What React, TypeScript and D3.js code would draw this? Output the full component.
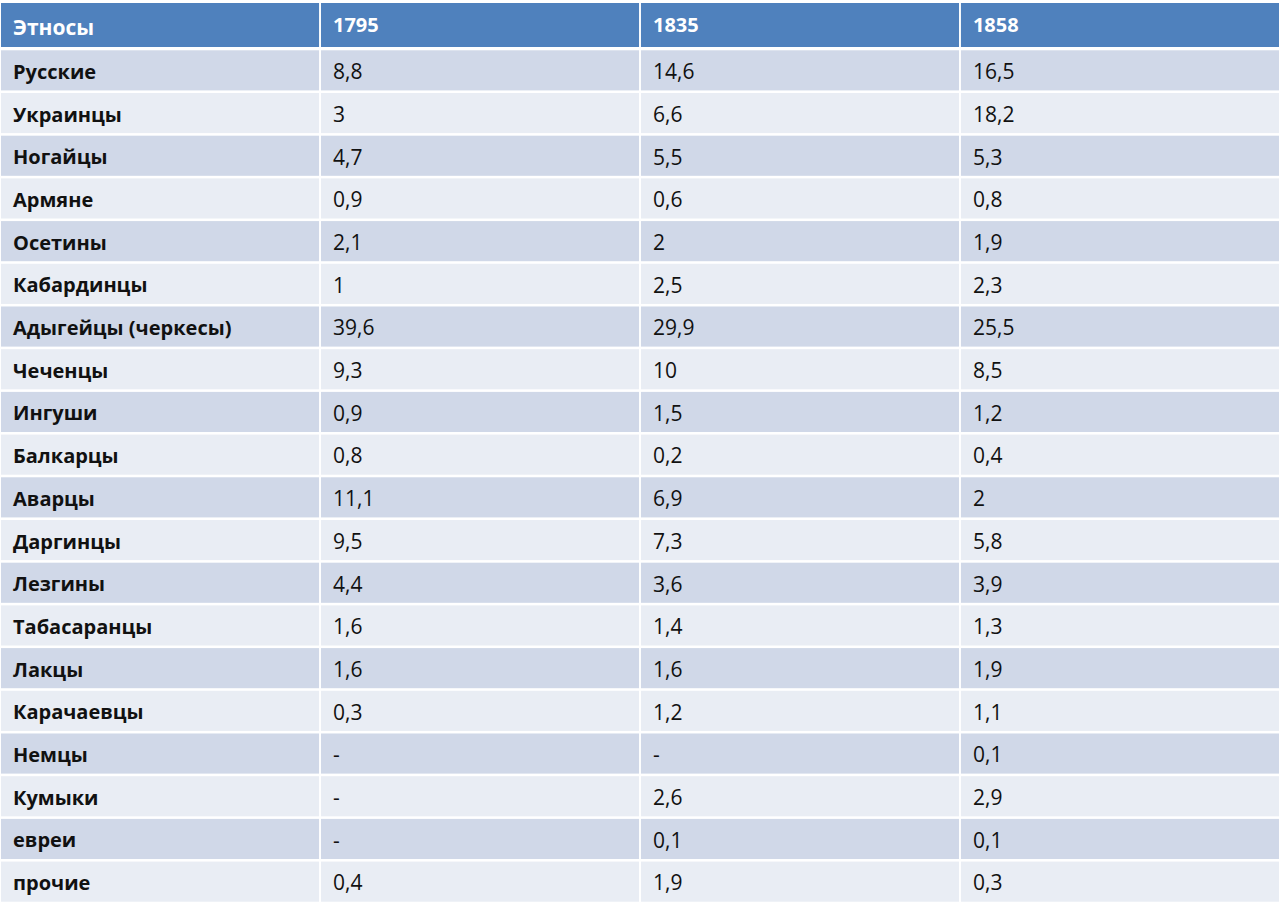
import { useEffect, useRef } from "react";
import * as d3 from "d3";

const headers = ["Этносы", "1795", "1835", "1858"];
const ethnos = [
  "Русские", "Украинцы", "Ногайцы", "Армяне", "Осетины", "Кабардинцы",
  "Адыгейцы (черкесы)", "Чеченцы", "Ингуши", "Балкарцы", "Аварцы",
  "Даргинцы", "Лезгины", "Табасаранцы", "Лакцы", "Карачаевцы",
  "Немцы", "Кумыки", "евреи", "прочие",
];
const y1795 = ["8,8", "3", "4,7", "0,9", "2,1", "1", "39,6", "9,3", "0,9", "0,8", "11,1", "9,5", "4,4", "1,6", "1,6", "0,3", "-", "-", "-", "0,4"];
const y1835 = ["14,6", "6,6", "5,5", "0,6", "2", "2,5", "29,9", "10", "1,5", "0,2", "6,9", "7,3", "3,6", "1,4", "1,6", "1,2", "-", "2,6", "0,1", "1,9"];
const y1858 = ["16,5", "18,2", "5,3", "0,8", "1,9", "2,3", "25,5", "8,5", "1,2", "0,4", "2", "5,8", "3,9", "1,3", "1,9", "1,1", "0,1", "2,9", "0,1", "0,3"];

export default function App() {
  const ref = useRef<SVGSVGElement>(null);

  useEffect(() => {
    const svg = d3.select(ref.current);
    svg.selectAll("*").remove();

    const rows = ethnos.map((name, i) => [name, y1795[i], y1835[i], y1858[i]]);

    const x = d3.scaleBand<number>().domain([0, 1, 2, 3]).range([1, 1279]).paddingInner(0.006);
    const headerTop = 3;
    const headerH = 44;
    const y = d3
      .scaleBand<number>()
      .domain(d3.range(rows.length))
      .range([headerTop + headerH + 2, 903])
      .paddingInner(0.06)
      .paddingOuter(0.03);

    const font = "'Open Sans', 'DejaVu Sans', sans-serif";

    // header
    const head = svg.append("g");
    head
      .selectAll("rect")
      .data(headers)
      .enter()
      .append("rect")
      .attr("x", (_, i) => x(i)!)
      .attr("y", headerTop)
      .attr("width", x.bandwidth())
      .attr("height", headerH)
      .attr("fill", "#4f81bd");
    head
      .selectAll("text")
      .data(headers)
      .enter()
      .append("text")
      .attr("x", (_, i) => x(i)! + 12)
      .attr("y", (_, i) => headerTop + headerH / 2 + (i === 0 ? 3 : 0))
      .attr("dy", "0.35em")
      .attr("fill", "white")
      .style("font-family", font)
      .style("font-weight", "bold")
      .style("font-size", (_, i) => (i === 0 ? "21px" : "20px"))
      .text((d) => d);

    // body
    const rowG = svg
      .selectAll(".row")
      .data(rows)
      .enter()
      .append("g")
      .attr("class", "row")
      .attr("transform", (_, i) => `translate(0,${y(i)})`);

    rowG
      .selectAll("rect")
      .data((d, i) => d.map((v) => ({ v, even: i % 2 === 0 })))
      .enter()
      .append("rect")
      .attr("x", (_, j) => x(j)!)
      .attr("width", x.bandwidth())
      .attr("height", y.bandwidth())
      .attr("fill", (d) => (d.even ? "#d0d8e8" : "#e9edf4"));

    rowG
      .selectAll("text")
      .data((d) => d)
      .enter()
      .append("text")
      .attr("x", (_, j) => x(j)! + 12)
      .attr("y", y.bandwidth() / 2 + 1.5)
      .attr("dy", "0.35em")
      .attr("fill", "#111")
      .style("font-family", font)
      .style("font-size", (_, j) => (j === 0 ? "20px" : "21px"))
      .style("font-weight", (_, j) => (j === 0 ? "bold" : "normal"))
      .text((d) => d);
  }, []);

  return (
    <svg
      ref={ref}
      width={1280}
      height={911}
      style={{ position: "absolute", left: 0, top: 0, background: "white" }}
    />
  );
}
